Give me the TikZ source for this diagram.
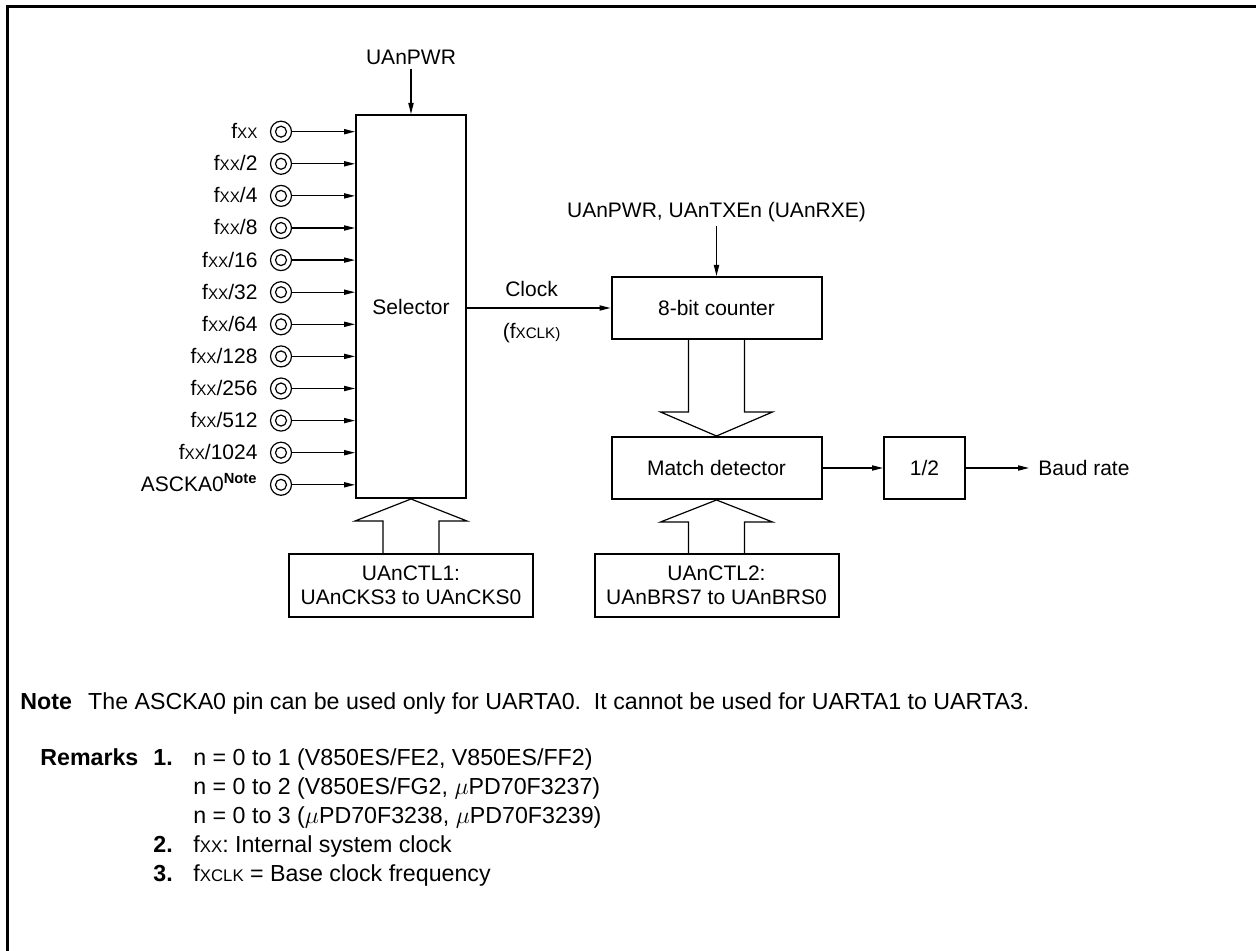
\documentclass[tikz,border=0pt]{standalone}
\usepackage{fontspec}
\setmainfont{Liberation Sans}
\usetikzlibrary{arrows.meta,positioning,calc}
\newcommand{\sx}[1]{{\fontsize{7.6}{9}\selectfont #1}}
\newcommand{\nx}[1]{{\fontsize{8.4}{10}\selectfont #1}}

\begin{document}
\begin{tikzpicture}[
  x=0.5pt,y=-0.5pt,
  font=\fontsize{10.5}{12}\selectfont,
  blk/.style={draw,line width=1pt,minimum width=105pt,minimum height=31pt,align=center,inner sep=0pt},
  sig/.style={-{Triangle[length=5.5pt,width=2.6pt]},line width=0.6pt},
  fat/.style={line width=0.6pt,line join=miter},
  pin/.style={circle,draw,line width=0.6pt,minimum size=10.5pt,inner sep=0pt,
    path picture={\draw[line width=0.6pt] (path picture bounding box.center) circle (2.75pt);}},
  lbl/.style={inner sep=0pt},
  txt/.style={anchor=base west,inner sep=0pt,font=\fontsize{11.6}{14}\selectfont},
]
  \useasboundingbox (0,0) rectangle (1256,951);
  \draw[line width=1.5pt] (7.5,951) -- (7.5,6.5) -- (1256,6.5);

  % blocks
  \node[blk,minimum width=55pt,minimum height=191.5pt] (sel) at (411,306.5) {Selector};
  \node[blk] (cnt) at (716.5,308) {8-bit counter};
  \node[blk] (mat) at (716.5,468) {Match detector};
  \node[blk,minimum width=40.5pt] (half) at (924.5,468) {1/2};
  \node[blk,minimum width=122pt,minimum height=31.5pt] (ctl1) at (411,585.5) {UAnCTL1:\\UAnCKS3 to UAnCKS0};
  \node[blk,minimum width=122pt,minimum height=31.5pt] (ctl2) at (716.5,585.5) {UAnCTL2:\\UAnBRS7 to UAnBRS0};

  % control labels
  \node[lbl,inner sep=2pt] (pwr) at (411,57) {UAnPWR};
  \node[lbl,inner sep=2pt] (en) at (716.5,212) {UAnPWR, UAnTXEn (UAnRXE)};
  \node[lbl,right=36pt of half] (baud) {Baud rate};

  % clock inputs
  \foreach \lab [count=\i from 0] in {f\sx{XX}, f\sx{XX}/2, f\sx{XX}/4, f\sx{XX}/8,
      f\sx{XX}/16, f\sx{XX}/32, f\sx{XX}/64, f\sx{XX}/128, f\sx{XX}/256,
      f\sx{XX}/512, f\sx{XX}/1024, ASCKA0\textsuperscript{\bfseries Note}} {
    \node[pin] (p\i) at (281,{131.7+32.1*\i}) {};
    \node[lbl,anchor=base east] (l\i) at ($(p\i.west)+(-12,7)$) {\lab};
    \draw[sig] (p\i) -- (p\i -| sel.west);
  }

  \draw[sig] (pwr) -- (sel);
  \draw[sig] (en) -- (cnt);
  \draw[sig] (cnt.west -| sel.east) -- node[above=2pt,pos=0.45] (clk) {Clock}
    node[below=4pt,pos=0.45] (fclk) {(f\sx{XCLK)}} (cnt.west);
  \draw[sig] (mat) -- (half);
  \draw[sig,shorten >=4.5pt] (half) -- (baud);

  % wide bus arrows
  \draw[fat] ($(cnt.south)+(-28,0)$) -- ($(mat.north)+(-28,-24)$) -- ($(mat.north)+(-56,-24)$)
    -- (mat.north) -- ($(mat.north)+(56,-24)$) -- ($(mat.north)+(28,-24)$) -- ($(cnt.south)+(28,0)$);
  \draw[fat] ($(ctl1.north)+(-28,0)$) -- ($(sel.south)+(-28,22)$) -- ($(sel.south)+(-56,22)$)
    -- (sel.south) -- ($(sel.south)+(56,22)$) -- ($(sel.south)+(28,22)$) -- ($(ctl1.north)+(28,0)$);
  \draw[fat] ($(ctl2.north)+(-28,0)$) -- ($(mat.south)+(-28,22)$) -- ($(mat.south)+(-56,22)$)
    -- (mat.south) -- ($(mat.south)+(56,22)$) -- ($(mat.south)+(28,22)$) -- ($(ctl2.north)+(28,0)$);

  % notes
  \node[txt] (note) at (20,709) {\textbf{Note}\hspace{0.7em}The ASCKA0 pin can be used only for UARTA0.\hspace{0.55em}It cannot be used for UARTA1 to UARTA3.};
  \node[txt] (rem) at (40,765) {\textbf{Remarks}};
  \node[txt] (r1) at (153,765) {\textbf{1.}};
  \node[txt] (n1) at (193,765) {n = 0 to 1 (V850ES/FE2, V850ES/FF2)};
  \node[txt] (n2) at (193,794) {n = 0 to 2 (V850ES/FG2, $\mu$PD70F3237)};
  \node[txt] (n3) at (193,823) {n = 0 to 3 ($\mu$PD70F3238, $\mu$PD70F3239)};
  \node[txt] (r2) at (153,852) {\textbf{2.}};
  \node[txt] (m2) at (193,852) {f\nx{XX}: Internal system clock};
  \node[txt] (r3) at (153,881) {\textbf{3.}};
  \node[txt] (m3) at (193,881) {f\nx{XCLK} = Base clock frequency};
\end{tikzpicture}
\end{document}
